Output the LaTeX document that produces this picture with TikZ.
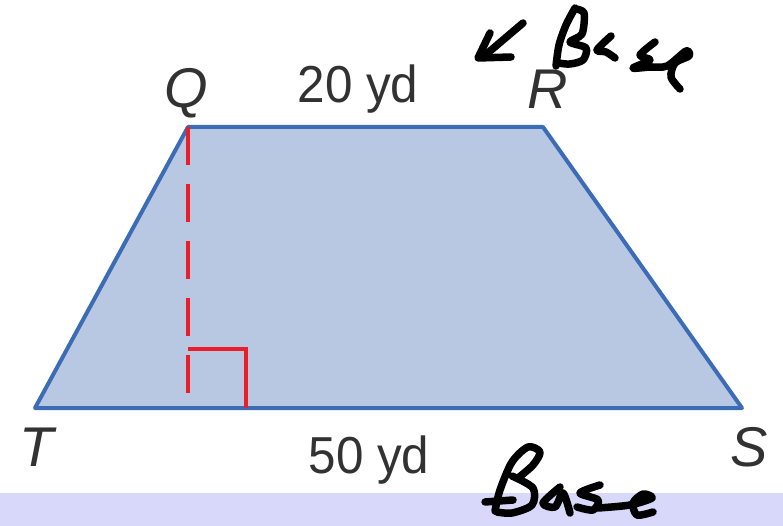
\documentclass[tikz,border=0pt]{standalone}
\usepackage{fontspec}
\setmainfont{Liberation Sans}
\usepackage{tikz}

\definecolor{trapfill}{RGB}{185,200,226}
\definecolor{trapedge}{RGB}{60,108,182}
\definecolor{hgtred}{RGB}{235,30,40}
\definecolor{labelgray}{RGB}{50,50,50}
\definecolor{stripcol}{RGB}{216,216,250}

\begin{document}
\begin{tikzpicture}[x=1pt, y=-1pt,
	vertex/.style={text=labelgray, font=\fontsize{56}{60}\selectfont\itshape, inner sep=0pt, anchor=base},
	measure/.style={text=labelgray, font=\fontsize{52}{56}\selectfont, inner sep=0pt, anchor=base, xscale=0.95},
	ink/.style={line width=7.5pt, line cap=round, line join=round}]
					\useasboundingbox (0,0) rectangle (783,526);
					
					% Define coordinates
					\coordinate (Q) at (188,127);
					\coordinate (R) at (543,127);
					\coordinate (S) at (742,408);
					\coordinate (T) at (35,408);
					\coordinate (H) at (188,408);
					
					% Bottom strip
					\fill[stripcol] (0,493) rectangle (783,526);
					
					% Trapezoid
					\filldraw[fill=trapfill, draw=trapedge, line width=4pt, line join=round] (Q) -- (R) -- (S) -- (T) -- cycle;
					
					% Height and right angle
					\draw[hgtred, line width=4pt, dash pattern=on 38pt off 19pt] (Q) -- (H);
					\draw[hgtred, line width=4pt] (H) ++(0,-59) -- ++(58,0) -- ++(0,59);
					
					% Labels
					\node[vertex] (lblQ) at (186,108) {Q};
					\node[vertex] (lblR) at (548,109) {R};
					\node[vertex] (lblT) at (37,466) {T};
					\node[vertex] (lblS) at (749,466) {S};
					\node[measure] (top) at (358,103) {20 yd};
					\node[measure] (bottom) at (369,473) {50 yd};
					
					% Handwritten notes
					\draw[ink] (523,23) -- (483,57);
					\draw[ink] (490,33) -- (478,58) -- (511,57);
					\draw[ink] plot[smooth] coordinates {(575,8) (566,25) (559,45) (556,66)};
					\draw[ink] plot[smooth] coordinates {(575,9) (584,13) (582,34) (570,42) (586,48) (583,60) (570,64) (558,63)};
					\draw[ink] plot[smooth] coordinates {(611,36) (597,50) (606,52) (615,58)};
					\draw[ink] plot[smooth] coordinates {(655,42) (640,55) (650,60) (633,68) (650,67) (667,66) (686,51) (689,56) (675,63) (671,77) (680,89)};
					
					\draw[ink] plot[smooth] coordinates {(495,511) (500,490) (512,462) (528,447) (540,452) (533,465) (518,478)};
					\draw[ink] plot[smooth] coordinates {(512,476) (533,488) (532,505) (512,513) (497,512)};
					\draw[ink] (485,502) -- (513,500);
					\draw[ink] plot[smooth] coordinates {(560,487) (543,503) (555,507) (563,493) (570,513)};
					\draw[ink] plot[smooth] coordinates {(600,485) (580,493) (598,500) (593,510) (577,507)};
					\draw[ink] plot[smooth] coordinates {(598,508) (630,505) (652,498) (643,494) (633,503) (637,515) (653,512)};
				\end{tikzpicture}
\end{document}
